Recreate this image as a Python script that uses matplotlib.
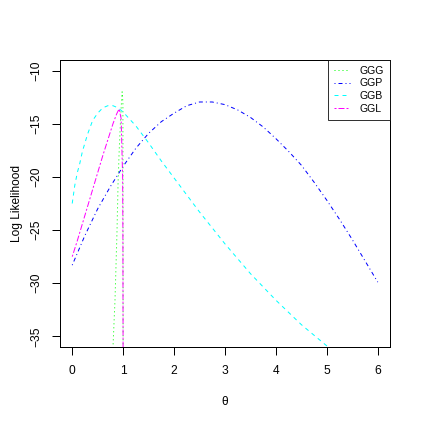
import matplotlib
matplotlib.use('Agg')
from matplotlib import pyplot as plt

# Values (theta, log likelihood)
ggg_theta = [0.78, 0.80, 0.82, 0.84, 0.86, 0.88, 0.90, 0.92, 0.94, 0.96, 0.98, 0.995, 1.0]
ggg_ll = [-38.0, -36.1, -33.8, -31.6, -28.3, -25.0, -20.6, -17.8, -15.6, -13.6, -12.0, -13.0, -40.0]

ggp_theta = [0, 0.25, 0.5, 0.75, 1, 1.25, 1.5, 1.75, 2, 2.25, 2.5, 2.75, 3,
             3.25, 3.5, 3.75, 4, 4.25, 4.5, 4.75, 5, 5.25, 5.5, 5.75, 6]
ggp_ll = [-28.3, -25.5, -23.0, -20.9, -19.0, -17.3, -15.9, -14.8, -14.0, -13.3,
          -12.95, -12.95, -13.2, -13.7, -14.4, -15.3, -16.4, -17.6, -18.9, -20.5,
          -22.2, -24.0, -25.9, -27.9, -29.9]

ggb_theta = [0, 0.05, 0.1, 0.15, 0.2, 0.3, 0.4, 0.5, 0.6, 0.7, 0.8, 0.9, 1.0,
             1.25, 1.5, 1.75, 2, 2.5, 3, 3.5, 4, 4.5, 5, 5.1]
ggb_ll = [-22.5, -20.8, -19.6, -18.7, -17.6, -16.0, -14.7, -14.0, -13.5, -13.3,
          -13.3, -13.5, -13.9, -15.2, -16.8, -18.5, -20.1, -23.3, -26.3, -29.1,
          -31.6, -33.9, -35.9, -36.3]

ggl_theta = [0, 0.1, 0.2, 0.3, 0.4, 0.5, 0.6, 0.7, 0.8, 0.87, 0.92, 0.96, 0.99, 0.995, 1.0]
ggl_ll = [-27.5, -26.0, -24.4, -22.8, -21.2, -19.6, -18.0, -16.5, -15.0, -14.1,
          -13.6, -14.5, -20.0, -25.0, -40.0]

labels = ['GGG', 'GGP', 'GGB', 'GGL']

plt.rcParams['font.family'] = ['Liberation Sans', 'DejaVu Sans']
fs = 8.64
lw = 0.72

fig = plt.figure(figsize=(4.22, 4.22), dpi=100)
ax = fig.add_axes([60 / 422, 75 / 422, 330 / 422, 287 / 422])

ax.plot(ggg_theta, ggg_ll, color='#00FF00', lw=lw, dashes=(1, 3), label=labels[0])
ax.plot(ggp_theta, ggp_ll, color='#0000FF', lw=lw, dashes=(1, 3, 4, 3), label=labels[1])
ax.plot(ggb_theta, ggb_ll, color='#00FFFF', lw=lw, dashes=(4, 4), label=labels[2])
ax.plot(ggl_theta, ggl_ll, color='#FF00FF', lw=lw, dashes=(2, 2, 6, 2), label=labels[3])

ax.set_xlim(-0.24, 6.24)
ax.set_ylim(-36, -9)
ax.set_xticks(range(0, 7))
ax.set_yticks([-35, -30, -25, -20, -15, -10])
ax.set_yticklabels(['\u221235', '\u221230', '\u221225', '\u221220', '\u221215', '\u221210'],
                   rotation=90, va='center')
ax.tick_params(direction='out', length=5.8, width=lw, pad=7, labelsize=fs)
for s in ax.spines.values():
    s.set_linewidth(lw)

ax.set_xlabel('\u03b8', fontsize=fs, labelpad=14)
ax.set_ylabel('Log Likelihood', fontsize=fs, labelpad=5)

leg = ax.legend(loc='upper right', bbox_to_anchor=(1, 1), borderaxespad=0,
                fontsize=7.6, frameon=True, fancybox=False, handlelength=1.55,
                handletextpad=0.9, labelspacing=0.25, borderpad=0.55)
leg.get_frame().set_edgecolor('black')
leg.get_frame().set_linewidth(lw)

plt.savefig('out.png', dpi=100)
